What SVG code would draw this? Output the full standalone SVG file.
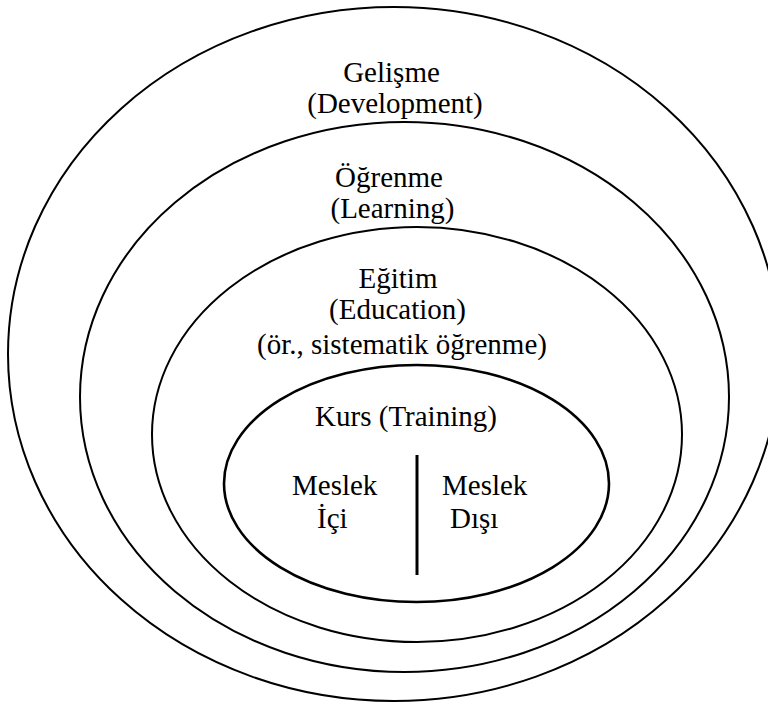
<svg xmlns="http://www.w3.org/2000/svg" width="768" height="704" viewBox="0 0 768 704">
<style>
.ring{fill:none;stroke:#000;stroke-width:2}
.inner{fill:none;stroke:#000;stroke-width:2.6}
.c{text-anchor:middle}
text{font-family:"Liberation Serif","Times New Roman",Times,"DejaVu Serif",serif;font-size:29px;fill:#000}
</style>
<rect width="768" height="704" fill="#fff"/>
<g id="gelisme">
<ellipse class="ring" cx="394" cy="354" rx="386" ry="347"/>
<text class="c" x="391.5" y="82">Gelişme</text>
<text class="c" x="395" y="113">(Development)</text>
</g>
<g id="ogrenme">
<ellipse class="ring" cx="404.5" cy="397" rx="324.5" ry="275"/>
<text class="c" x="389" y="187">Öğrenme</text>
<text class="c" x="392.5" y="218">(Learning)</text>
</g>
<g id="egitim">
<ellipse class="ring" cx="417" cy="434.5" rx="265" ry="207.5"/>
<text class="c" x="398" y="288">Eğitim</text>
<text class="c" x="397.5" y="319">(Education)</text>
<text class="c" x="402" y="354">(ör., sistematik öğrenme)</text>
</g>
<g id="kurs">
<ellipse class="inner" cx="416.5" cy="483.5" rx="192.5" ry="118.5"/>
<text class="c" x="406" y="426">Kurs (Training)</text>
</g>
<g id="meslek-ici">
<text x="292" y="495">Meslek</text>
<text x="317" y="528">İçi</text>
</g>
<g id="meslek-disi">
<text x="442" y="495">Meslek</text>
<text x="450" y="528">Dışı</text>
</g>
<g id="connectors">
<line x1="417" y1="455" x2="417" y2="575" stroke="#000" stroke-width="3"/>
</g>
</svg>
